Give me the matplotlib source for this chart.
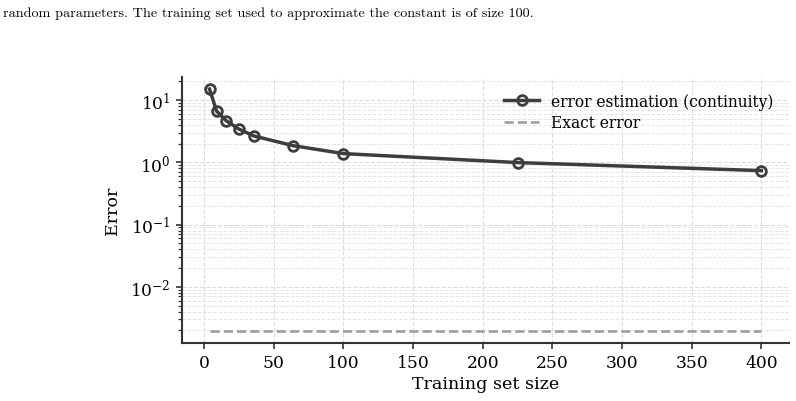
import matplotlib
matplotlib.use("Agg")
import matplotlib.pyplot as plt

# data
train_sizes = [4, 9, 16, 25, 36, 64, 100, 225, 400]
err_estimate = [15.0, 6.65, 4.65, 3.42, 2.64, 1.85, 1.38, 0.99, 0.735]
exact_error = [0.00196] * len(train_sizes)

caption = "random parameters. The training set used to approximate the constant is of size 100."

plt.rcParams['font.family'] = ['DejaVu Serif']
plt.rcParams['mathtext.fontset'] = 'dejavuserif'
plt.rcParams['font.size'] = 12.3

fig = plt.figure(figsize=(7.96, 4.02), dpi=100)
ax = fig.add_axes([0.2286, 0.1443, 0.7626, 0.6617])

ax.plot(train_sizes, err_estimate, color='#3d3d3d', lw=2.5, marker='o', ms=7,
        mfc='none', mec='#3d3d3d', mew=2, label='error estimation (continuity)')
ax.plot(train_sizes, exact_error, color='#9a9a9a', lw=1.8, ls='--', label='Exact error')

ax.set_yscale('log')
ax.set_xticks([0, 50, 100, 150, 200, 250, 300, 350, 400])
ax.set_xlabel('Training set size', fontsize=12.6, labelpad=3)
ax.set_ylabel('Error', fontsize=12.6, labelpad=7)

ax.grid(True, which='major', ls='--', color='#dcdcdc', lw=0.8)
ax.grid(True, which='minor', axis='y', ls='--', color='#e6e6e6', lw=0.7)
ax.set_axisbelow(True)

for s in ['top', 'right']:
    ax.spines[s].set_visible(False)
for s in ['left', 'bottom']:
    ax.spines[s].set_linewidth(1.5)
    ax.spines[s].set_color('#333333')
ax.tick_params(which='major', length=4.5, width=1.2, color='#333333')
ax.tick_params(which='minor', length=3, width=0.9, color='#333333')

ax.legend(loc='upper right', frameon=False, fontsize=11.2, handlelength=2.2,
          borderaxespad=0.6, labelspacing=0.3)

fig.text(0.004, 0.965, caption, family=['cmr10', 'DejaVu Serif'], fontsize=10.2,
         va='center', ha='left')

fig.savefig('out.png', dpi=100)
